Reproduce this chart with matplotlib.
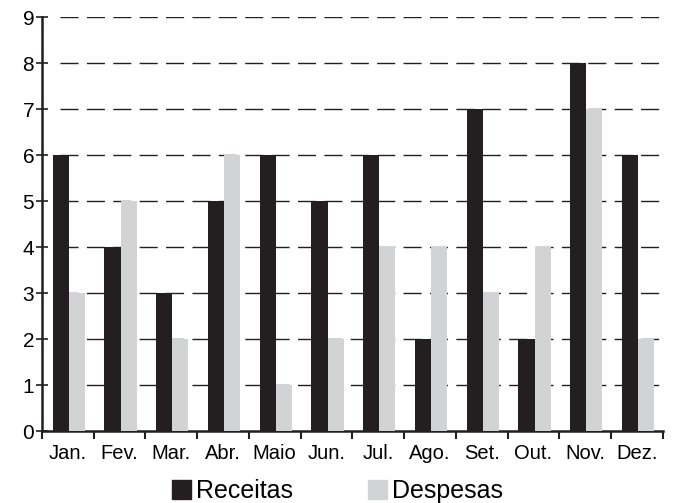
import numpy as np
import matplotlib.pyplot as plt
from matplotlib.patches import Patch

plt.rcParams['font.family'] = ['Liberation Sans', 'DejaVu Sans']
plt.rcParams['lines.scale_dashes'] = False

# data
months = ['Jan.', 'Fev.', 'Mar.', 'Abr.', 'Maio', 'Jun.', 'Jul.', 'Ago.', 'Set.', 'Out.', 'Nov.', 'Dez.']
receitas = [6, 4, 3, 5, 6, 5, 6, 2, 7, 2, 8, 6]
despesas = [3, 5, 2, 6, 1, 2, 4, 4, 3, 4, 7, 2]

black = '#231f20'
grey = '#d1d3d4'

fig = plt.figure(figsize=(6.75, 5.03), dpi=100)
ax = fig.add_axes([0.062, 0.143, 0.92, 0.823])

ind = np.arange(len(months))
w = 0.31
ax.bar(ind - w/2 + 0.02, receitas, width=w, color=black, zorder=3)
ax.bar(ind + w/2 + 0.02, despesas, width=w, color=grey, zorder=3)

# dashed grid behind the bars
for y in range(1, 10):
    ax.axhline(y, xmin=0.03, color=black, lw=1.0, linestyle=(0, (13, 6)), zorder=1)

ax.set_xlim(-0.5, len(months) - 0.5)
ax.set_ylim(0, 9)
ax.set_yticks(range(0, 10))

# month names centred, ticks on the boundaries
ax.set_xticks(ind)
ax.set_xticklabels(months, fontsize=14.5)
ax.tick_params(axis='x', which='major', length=0, pad=9)
ax.set_xticks(np.arange(-0.5, len(months)), minor=True)
ax.tick_params(axis='x', which='minor', length=6, width=1.5, direction='out', color=black)
ax.tick_params(axis='y', length=9, width=1.2, direction='inout', labelsize=15, color=black, pad=1)

for s in ['top', 'right']:
    ax.spines[s].set_visible(False)
for s in ['left', 'bottom']:
    ax.spines[s].set_linewidth(1.8)
    ax.spines[s].set_color(black)

handles = [Patch(color=black, label='Receitas'), Patch(color=grey, label='Despesas')]
fig.legend(handles=handles, loc='lower center', bbox_to_anchor=(0.5, -0.045), ncol=2,
           frameon=False, fontsize=18, handlelength=0.75, handleheight=0.75,
           handletextpad=0.2, columnspacing=3.0)

fig.savefig('out.png', dpi=100)
